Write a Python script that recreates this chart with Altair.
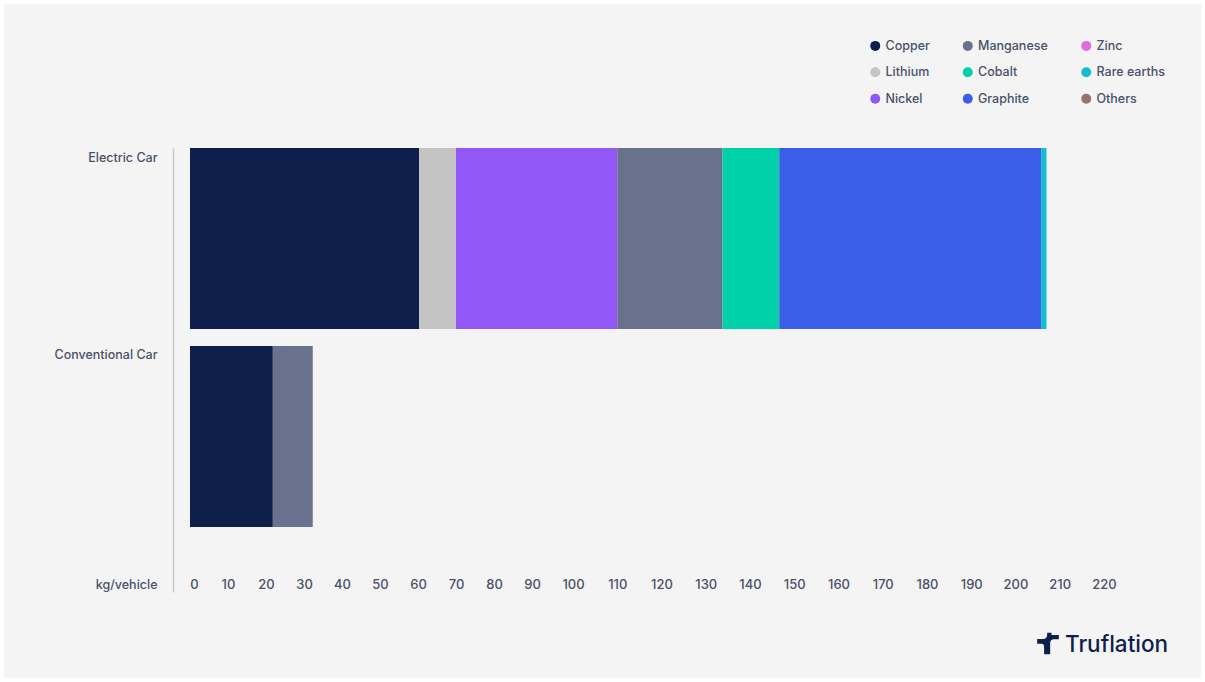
import altair as alt
import pandas as pd

# Mineral content per vehicle, kg
materials = ["Copper", "Lithium", "Nickel", "Manganese", "Cobalt", "Graphite", "Zinc", "Rare earths", "Others"]
colors = ["#0f1f4b", "#c4c4c4", "#9157f7", "#69728c", "#00d1a9", "#3b5ee8", "#e668dc", "#14bccf", "#94736a"]
electric_car = [60.3, 9.7, 40, 23.8, 12.8, 59.2, 0, 1.2, 0]
conventional_car = [21.8, 0, 0, 10.5, 0, 0, 0, 0, 0]
vehicles = ["Electric Car", "Conventional Car"]
tick_values = list(range(0, 230, 10))

rows = []
for i, m in enumerate(materials):
    rows.append({"vehicle": vehicles[0], "material": m, "kg": electric_car[i], "rank": i})
    rows.append({"vehicle": vehicles[1], "material": m, "kg": conventional_car[i], "rank": i})
data = pd.DataFrame(rows)

INK = "#4a5168"
FONT = "Inter"

# Full-bleed panel behind the chart
panel = alt.Chart(pd.DataFrame({"a": [0]})).mark_rect(color="#f4f4f4").encode(
    x=alt.value(-169), x2=alt.value(1028), y=alt.value(-144), y2=alt.value(530)
)

bars = alt.Chart(data).mark_bar(clip=False).encode(
    x=alt.X(
        "kg:Q",
        stack="zero",
        scale=alt.Scale(domain=[0, 90, 100, 220], range=[17, 359, 400, 931]),
        axis=alt.Axis(
            values=tick_values,
            zindex=1,
            grid=False,
            domain=False,
            ticks=False,
            offset=-16,
            labelPadding=8,
            labelFont=FONT,
            labelFontSize=13,
            labelFontWeight=500,
            labelColor=INK,
            labelFlush=False,
            labelOverlap=False,
            labelBaseline="middle",
            labelOffset={"condition": {"test": "datum.value === 0", "value": 4}, "value": 0},
            title="kg/vehicle",
            titleFont=FONT,
            titleFontSize=12.5,
            titleFontWeight=500,
            titleColor=INK,
            titleAnchor="start",
            titleAlign="right",
            titleBaseline="middle",
            titleX=-16,
            titleY=8,
        ),
    ),
    y=alt.Y(
        "vehicle:N",
        sort=vehicles,
        scale=alt.Scale(
            domain=vehicles,
            range=[0, 444],
            paddingInner=0.0859,
            paddingOuter=0.164,
            align=0,
        ),
        axis=alt.Axis(
            title=None,
            zindex=1,
            ticks=False,
            grid=False,
            domainColor="#c6c6c8",
            domainWidth=1.5,
            labelPadding=16,
            labelOffset={"condition": {"test": "datum.value === 'Conventional Car'", "value": -82}, "value": -81},
            labelFont=FONT,
            labelFontSize=12.5,
            labelFontWeight=500,
            labelColor=INK,
        ),
    ),
    color=alt.Color(
        "material:N",
        scale=alt.Scale(domain=materials, range=colors),
        legend=alt.Legend(
            title=None,
            orient="none",
            legendX=696,
            legendY=-108.5,
            direction="vertical",
            columns=3,
            columnPadding=31.5,
            rowPadding=13.5,
            gridAlign="each",
            symbolType="circle",
            symbolSize=100,
            symbolStrokeWidth=0,
            labelFont=FONT,
            labelFontSize=12.5,
            labelFontWeight=500,
            labelColor=INK,
            labelOffset=4,
        ),
    ),
    order=alt.Order("rank:Q"),
)

# Brand mark and wordmark, lower right
logo_mark = alt.Chart(pd.DataFrame({"a": [0]})).mark_point(
    shape="M-1 -0.42 L-0.4 -0.42 Q-0.08 -0.42 -0.08 -0.8 L-0.08 -1 L0.32 -1 L0.32 -0.78 L1 -0.78 L1 -0.4 L0.55 -0.4 "
          "Q0.2 -0.4 0.2 -0.05 L0.2 1 L-0.36 1 L-0.36 0.28 Q-0.36 0.02 -0.62 0.02 L-1 0.02 Z",
    filled=True,
    fill="#0f1f4b",
    stroke=None,
    size=470,
    opacity=1,
).encode(x=alt.value(875), y=alt.value(495.5))

logo_text = alt.Chart(pd.DataFrame({"label": ["Truflation"]})).mark_text(
    font=FONT, fontSize=22.5, fontWeight=500, color="#0f1f4b", align="left", baseline="middle"
).encode(x=alt.value(892), y=alt.value(497), text="label:N")

chart = (
    alt.layer(panel, bars, logo_mark, logo_text)
    .properties(
        width=1032,
        height=444,
        padding={"left": 173, "top": 148, "right": 0, "bottom": 90},
        autosize=alt.AutoSizeParams(type="none"),
        background="#ffffff",
    )
    .configure_view(stroke=None)
)

chart.save("out.html", embed_options={"renderer": "svg", "actions": False})
